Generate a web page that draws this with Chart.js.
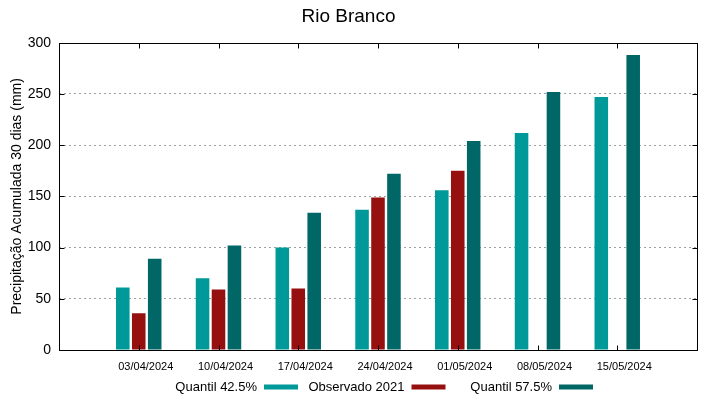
<!DOCTYPE html>
<html>
<head>
<meta charset="utf-8">
<script src="https://cdn.jsdelivr.net/npm/chart.js@4.4.1/dist/chart.umd.min.js"></script>
<style>
    html, body { margin: 0; padding: 0; background: #fff; }
    canvas { display: block; }
</style>
</head>
<body>
<canvas id="chuvaChart" width="719" height="399"></canvas>
<script>
// Dados (mm acumulados em 30 dias)
const semanas = ['03/04/2024', '10/04/2024', '17/04/2024', '24/04/2024', '01/05/2024', '08/05/2024', '15/05/2024'];
const quantil425 = [61, 70, 100, 137, 156, 212, 247];
const observado2021 = [36, 59, 60, 149, 175, null, null];
const quantil575 = [89, 102, 134, 172, 204, 252, 288];
const yTicks = [0, 50, 100, 150, 200, 250, 300];

const fonte = "'Liberation Sans', Arial, sans-serif";
Chart.defaults.font.family = fonte;
Chart.defaults.color = '#000';

function pontos(valores) {
    return valores.map((v, i) => ({ x: i, y: v }));
}

// Moldura preta em volta da área do gráfico, com marcas de escala internas
const moldura = {
    id: 'moldura',
    afterDatasetsDraw(chart) {
        const { ctx, chartArea: a, scales } = chart;
        const l = Math.round(a.left) + 0.5, r = Math.round(a.right) + 0.5;
        const t = Math.round(a.top) + 0.5, b = Math.round(a.bottom) + 0.5;
        ctx.save();
        ctx.strokeStyle = '#000';
        ctx.lineWidth = 1;
        ctx.strokeRect(l, t, r - l, b - t);
        ctx.beginPath();
        yTicks.forEach(v => {
            const y = Math.round(scales.y.getPixelForValue(v)) + 0.5;
            ctx.moveTo(l, y); ctx.lineTo(l + 5, y);
            ctx.moveTo(r, y); ctx.lineTo(r - 5, y);
        });
        semanas.forEach((s, i) => {
            const x = Math.round(scales.x.getPixelForValue(i)) + 0.5;
            ctx.moveTo(x, b); ctx.lineTo(x, b - 5);
            ctx.moveTo(x, t); ctx.lineTo(x, t + 5);
        });
        ctx.stroke();
        ctx.restore();
    }
};

// Legenda estilo gnuplot: texto à esquerda, amostra à direita
const legendaGnuplot = {
    id: 'legendaGnuplot',
    afterDraw(chart) {
        const ctx = chart.ctx;
        const a = chart.chartArea;
        const y = 387;
        const base = (a.left + a.right) / 2 - 121;
        ctx.save();
        ctx.font = '13px ' + fonte;
        ctx.textAlign = 'right';
        ctx.textBaseline = 'middle';
        chart.data.datasets.forEach((ds, i) => {
            const xTexto = base + i * 147.5;
            ctx.fillStyle = '#000';
            ctx.fillText(ds.label, xTexto, y);
            ctx.fillStyle = ds.backgroundColor;
            ctx.fillRect(xTexto + 7, y - 2.5, 34, 5);
        });
        ctx.restore();
    }
};

const ctx = document.getElementById('chuvaChart').getContext('2d');
const chuvaChart = new Chart(ctx, {
    type: 'bar',
    data: {
        datasets: [{
            label: 'Quantil 42.5%',
            data: pontos(quantil425),
            backgroundColor: '#009999'
        }, {
            label: 'Observado 2021',
            data: pontos(observado2021),
            backgroundColor: '#971010'
        }, {
            label: 'Quantil 57.5%',
            data: pontos(quantil575),
            backgroundColor: '#006666'
        }]
    },
    options: {
        responsive: false,
        animation: false,
        categoryPercentage: 0.6,
        barPercentage: 0.85,
        layout: {
            padding: { left: 0, right: 22, top: 0, bottom: 24 }
        },
        plugins: {
            legend: { display: false },
            tooltip: { enabled: false },
            title: {
                display: true,
                text: 'Rio Branco',
                font: { size: 19, weight: 'normal' },
                color: '#000',
                padding: { top: 5, bottom: 15 }
            }
        },
        scales: {
            x: {
                type: 'linear',
                min: -1,
                max: 7,
                offset: false,
                grid: { display: false, drawTicks: false },
                border: { display: false },
                ticks: {
                    stepSize: 1,
                    autoSkip: false,
                    maxRotation: 0,
                    padding: 10,
                    labelOffset: 7,
                    font: { size: 11 },
                    callback: (v) => semanas[v] ?? ''
                },
                afterFit: (scale) => { scale.height = 25; }
            },
            y: {
                min: 0,
                max: 300,
                afterBuildTicks: (scale) => { scale.ticks = yTicks.map(v => ({ value: v })); },
                grid: {
                    drawTicks: false,
                    color: (c) => (c.tick && (c.tick.value === 0 || c.tick.value === 300)) ? 'rgba(0,0,0,0)' : '#a0a0a0',
                    lineWidth: 1
                },
                border: { display: false, dash: [2, 3] },
                ticks: {
                    padding: 8,
                    font: { size: 14 }
                },
                title: {
                    display: true,
                    text: 'Precipitação Acumulada 30 dias (mm)',
                    font: { size: 14 },
                    padding: { top: 9, bottom: 0 }
                },
                afterFit: (scale) => { scale.width = 59; }
            }
        }
    },
    plugins: [moldura, legendaGnuplot]
});
</script>
</body>
</html>
